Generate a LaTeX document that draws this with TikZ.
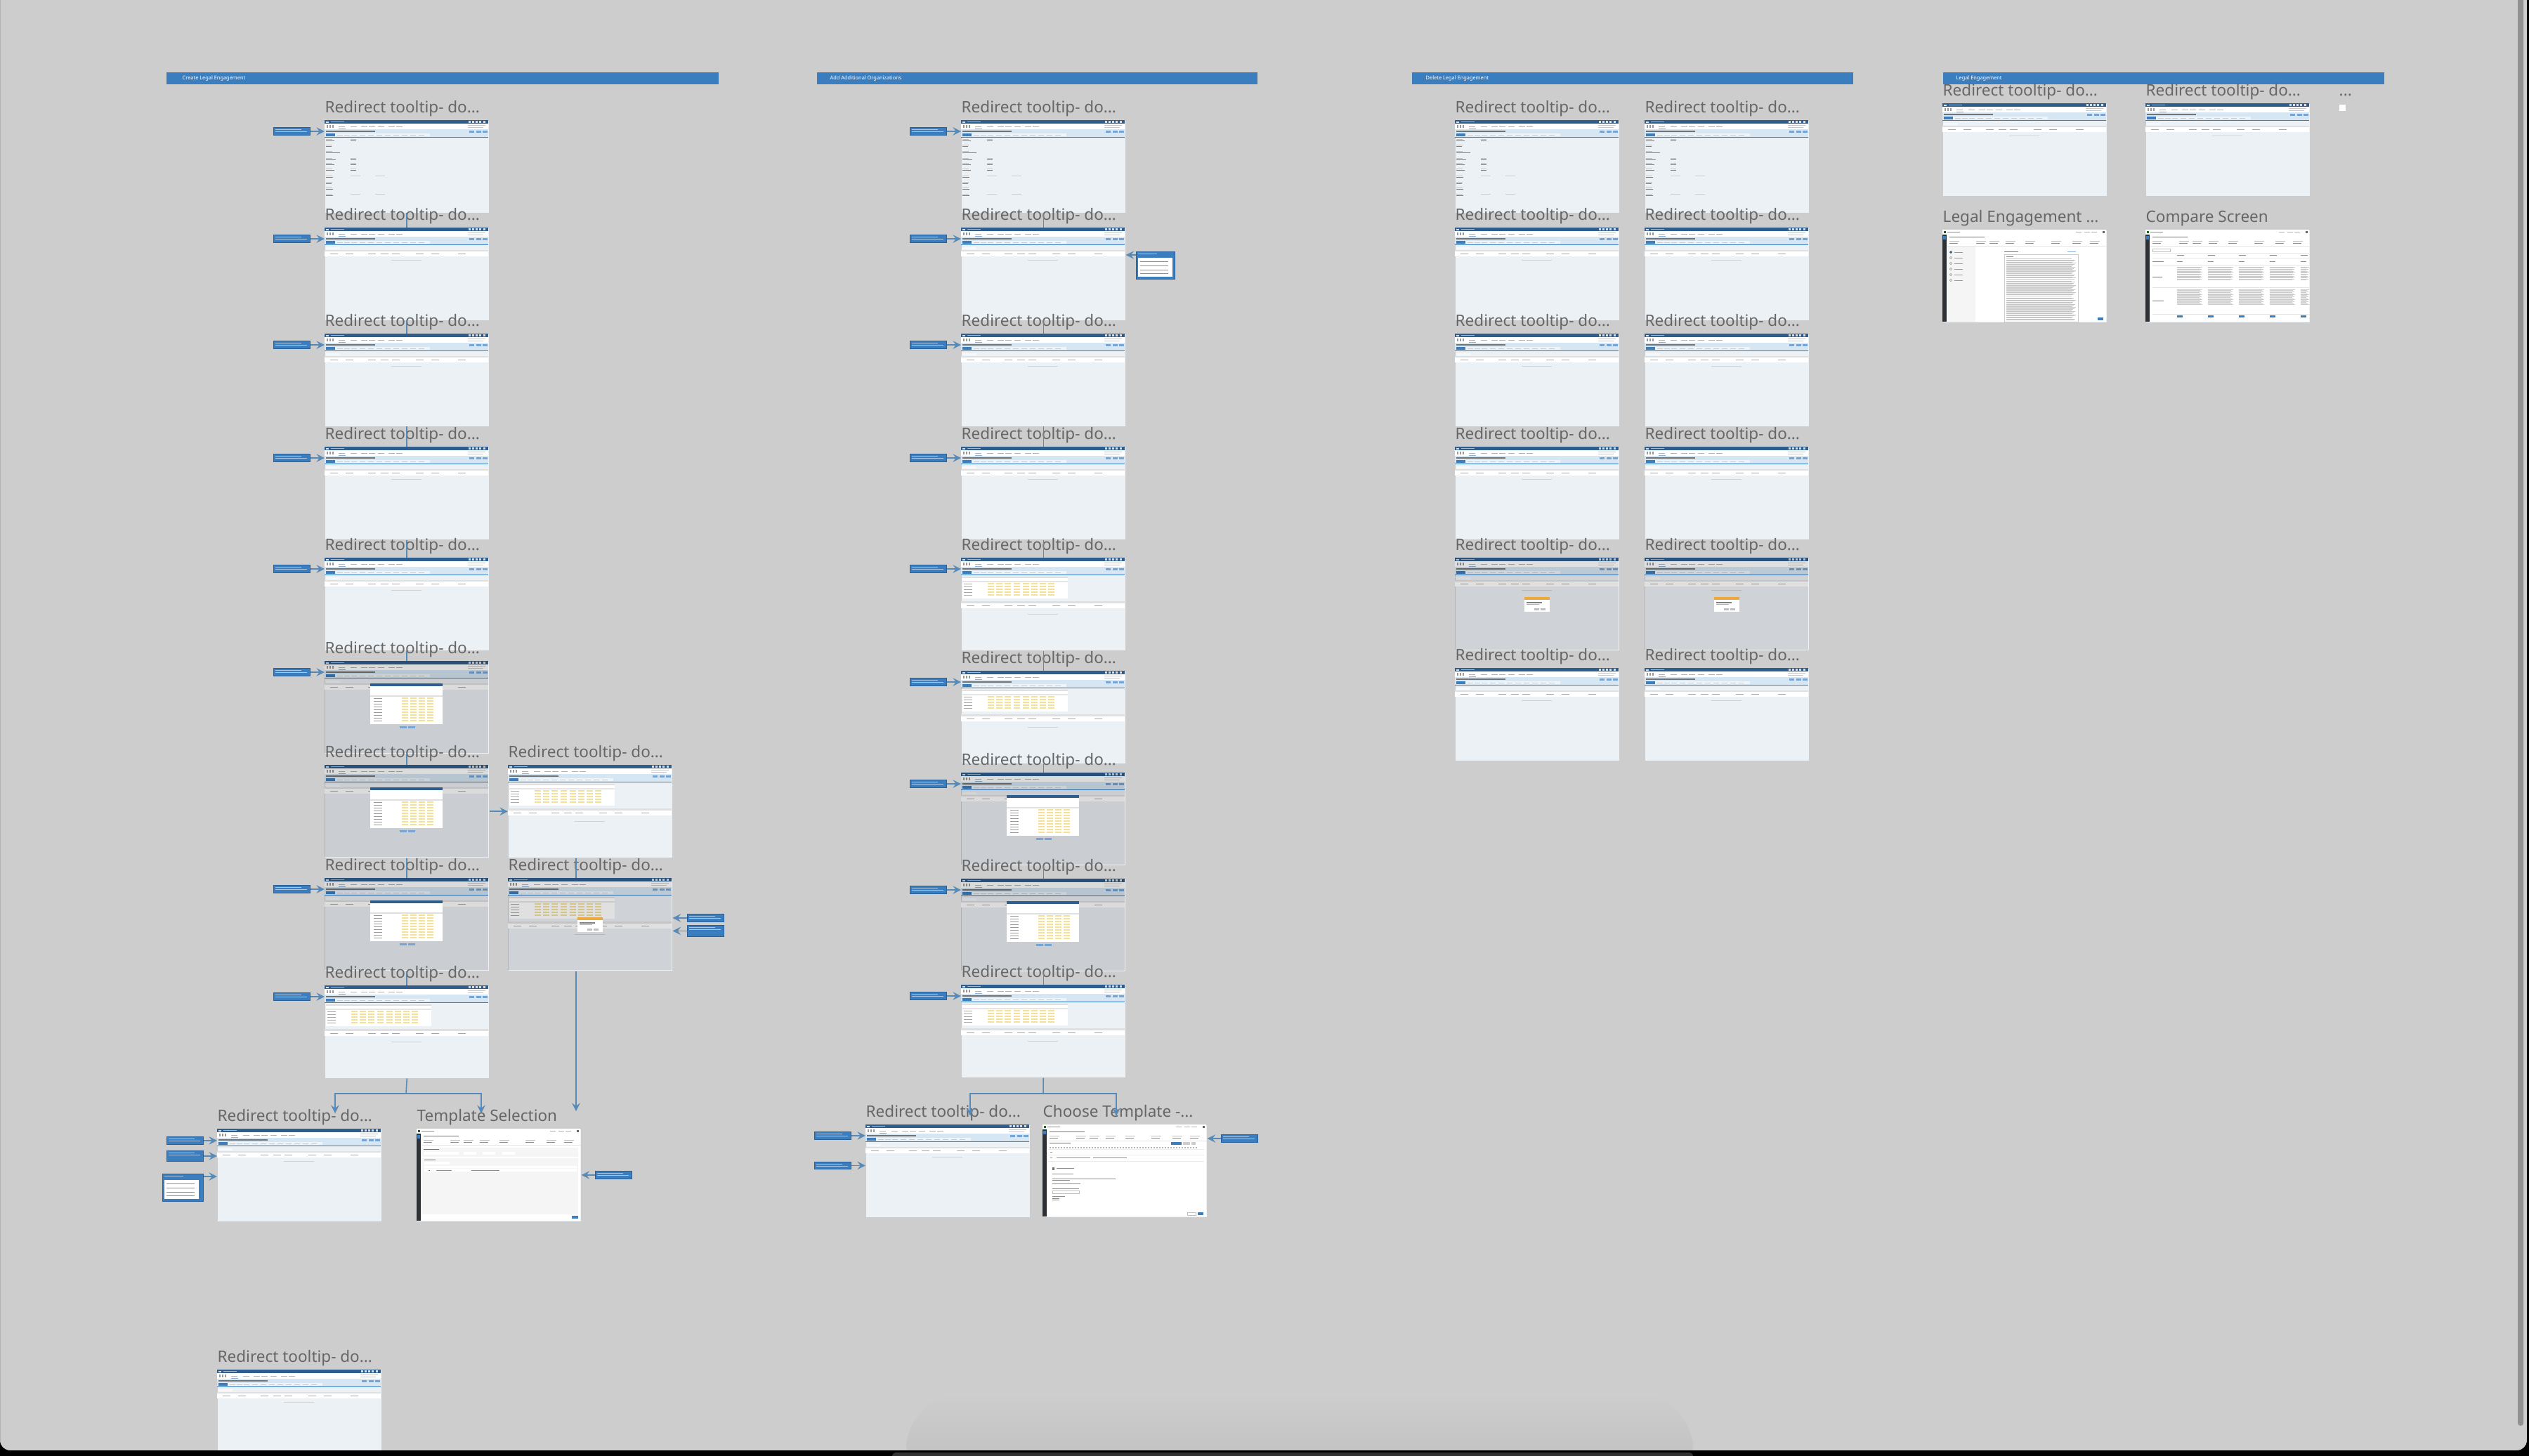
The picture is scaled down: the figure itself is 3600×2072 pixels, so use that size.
\documentclass[tikz,border=0pt]{standalone}
\usepackage{fontspec}
\setmainfont{Noto Sans}
\usetikzlibrary{calc}

\definecolor{canvas}{RGB}{205,205,205}
\definecolor{shadowgray}{RGB}{188,188,188}
\definecolor{hdrblue}{RGB}{58,126,192}
\definecolor{titlegray}{RGB}{102,102,102}
\definecolor{pagebg}{RGB}{236,241,245}
\definecolor{uidark}{RGB}{47,94,142}
\definecolor{uiband}{RGB}{214,230,243}
\definecolor{uiblue}{RGB}{60,125,190}
\definecolor{linkblue}{RGB}{88,138,184}
\definecolor{tipblue}{RGB}{58,126,192}
\definecolor{tipedge}{RGB}{40,96,156}
\definecolor{tipline}{RGB}{170,200,230}
\definecolor{yellowcell}{RGB}{244,224,150}
\definecolor{poporange}{RGB}{236,168,58}
\definecolor{sidebar}{RGB}{45,48,52}
\definecolor{scrollgray}{RGB}{145,145,145}

\newcommand\uitop{%
  \fill[uidark] (0,0) rectangle (233,5);
  \fill[white!80!uidark] (2,1.5) rectangle (6,3.5);
  \fill[white!55!uidark] (9,2) rectangle (28,3);
  \foreach \ii in {205,210,215,220,226} {\fill[white!80!uidark] (\ii,1.3) rectangle ++(3,2.4);}
  \fill[white] (0,5) rectangle (233,13);
  \foreach \ii in {3,7,11} {\fill[black!40] (\ii,7) rectangle ++(2,4);}
  \foreach \ii in {20,37,52,63,76,91,102} {\fill[black!30] (\ii,8.5) rectangle ++(9,1);}
  \fill[uiblue!60] (20,11.5) rectangle (30,12.2);
  \fill[black!22] (204,7) rectangle (229,8);
  \fill[black!22] (204,9.5) rectangle (226,10.5);
  \fill[uiband] (0,13) rectangle (233,23.5);
  \fill[black!55] (2,15.2) rectangle (72,16.6);
  \foreach \ii in {206,216,225} {\fill[uiblue!70] (\ii,14.5) rectangle ++(7,3.5);}
  \fill[white!55!uiband] (2,19.3) rectangle (150,22.8);
  \foreach \ii in {18,28,38,50,62,74,86,98,110,122,134} {\fill[black!20] (\ii,20.7) rectangle ++(8,0.6);}
  \fill[uiblue] (2,19.3) rectangle (15,22.8);
  \fill[uiblue] (0,23.5) rectangle (233,24.3);
}
\newcommand\uiform{%
  \foreach \yy/\w in {27/12,35/8,44/20,54/14,61/12,69/12,79/10,88/8,96/10,105/10} {%
    \fill[black!25] (2,\yy) rectangle ++(9,0.7);
    \fill[black!50] (2,\yy+1.8) rectangle ++(\w,0.9);}
  \foreach \yy in {27,54,61,69} {%
    \fill[black!25] (37,\yy) rectangle ++(8,0.7);
    \fill[black!50] (37,\yy+1.8) rectangle ++(8,0.9);}
  \foreach \yy in {79,105} {\fill[black!20] (37,\yy) rectangle ++(14,0.7); \fill[black!20] (72,\yy) rectangle ++(14,0.7);}
}
\newcommand\uilist{%
  \fill[white!50!pagebg] (2,27.5) rectangle (22,30.5);
  \fill[black!12] (0,31.5) rectangle (233,34);
  \fill[white] (0,34) rectangle (233,41);
  \foreach \ii in {8,30,62,80,96,130,152,190} {\fill[black!35] (\ii,37) rectangle ++(11,0.8);}
  \fill[black!18] (95,46) rectangle (138,46.8);
}
\newcommand\uitable{%
  \fill[white] (2,27) rectangle (152,58);
  \fill[black!12] (2,27) rectangle (152,29);
  \fill[black!10] (2,33) rectangle (152,35);
  \foreach \rr in {37,41,...,53} {%
    \fill[black!35] (4,\rr) rectangle ++(12,0.8);
    \foreach \cc in {38,50,62,75,88,100,112,124} {\fill[yellowcell] (\cc,\rr-0.6) rectangle ++(9,2);}}
  \fill[black!12] (0,62) rectangle (233,64.5);
  \fill[white] (0,65) rectangle (233,72);
  \foreach \ii in {8,30,62,80,96,130,152,190} {\fill[black!35] (\ii,68) rectangle ++(11,0.8);}
  \fill[black!18] (95,80) rectangle (138,80.8);
}
\newcommand\uidialog{%
  \uilist
  \fill[black,opacity=.14] (0,0) rectangle (233,131);
  \fill[white] (65,32) rectangle (168,90);
  \fill[uidark] (65,32) rectangle (168,36);
  \fill[black!12] (65,49) rectangle (168,51);
  \foreach \rr in {53,57,...,85} {%
    \fill[black!40] (70,\rr) rectangle ++(12,0.8);
    \foreach \cc in {110,122,134,146} {\fill[yellowcell] (\cc,\rr-0.6) rectangle ++(9,1.8);}}
  \fill[uiblue!70] (107,93) rectangle ++(10,3);
  \fill[uiblue!70] (119,93) rectangle ++(10,3);
}
\newcommand\uipopup{%
  \fill[black,opacity=.12] (0,0) rectangle (233,131);
  \fill[white] (99,56) rectangle (135,77);
  \fill[poporange] (99,56) rectangle (135,60);
  \fill[black!50] (102,63) rectangle ++(22,1.5);
  \fill[black!30] (102,66) rectangle ++(18,0.7);
  \fill[black!25] (113,72) rectangle ++(7,2.5);
  \fill[black!25] (122,72) rectangle ++(7,2.5);
}
\newcommand\uiapp{%
  \fill[white] (0,0) rectangle (233,131);
  \fill[sidebar] (0,7) rectangle (6,131);
  \fill[uiblue] (1,9) rectangle (5,14);
  \fill[green!45!black] (2,1.5) rectangle (5,5);
  \fill[black!45] (7,2.5) rectangle (25,3.5);
  \foreach \ii in {190,202,212} {\fill[black!30] (\ii,2.5) rectangle ++(8,1);}
  \fill[black!60] (228,1.5) rectangle (231,5);
  \fill[black!55] (10,10) rectangle (60,11);
  \foreach \ii in {10,48,67,90,118,155,185,210} {\fill[black!25] (\ii,16) rectangle ++(14,0.7); \fill[black!45] (\ii,18.5) rectangle ++(12,0.8);}
  \fill[black!10] (7,23) rectangle (233,23.5);
}
\newcommand\uitempl{%
  \uiapp
  \fill[black!4] (8,27) rectangle (230,40);
  \fill[black!55] (10,29) rectangle ++(22,0.9);
  \foreach \ii/\w in {10/50,67/18,94/18,122/18} {\fill[white] (\ii,33) rectangle ++(\w,4);}
  \fill[black!4] (8,42) rectangle (230,122);
  \fill[black!55] (11,44) rectangle ++(16,0.9);
  \fill[white] (11,47) rectangle (47,51);
  \fill[white] (11,53) rectangle (228,56);
  \fill[white] (11,57) rectangle (228,61);
  \fill[black!60] (17,58.5) rectangle ++(2,1.5);
  \fill[black!45] (28,58.5) rectangle ++(22,0.8);
  \fill[black!45] (78,58.5) rectangle ++(40,0.8);
  \fill[uiblue] (221,124) rectangle (230,128);
}
\newcommand\uimail{%
  \uiapp
  \fill[black!55] (10,26) rectangle ++(30,1);
  \fill[uiblue] (183,25) rectangle (198,29);
  \fill[black!20] (200,25) rectangle (210,29);
  \fill[black!20] (212,25) rectangle (218,29);
  \foreach \ii in {10,14,...,218} {\fill[black!30] (\ii,32) rectangle ++(2,1.5);}
  \fill[black!8] (8,35) rectangle (230,35.4);
  \fill[black!40] (11,39) rectangle ++(3,0.8);
  \fill[black!8] (8,43) rectangle (230,43.4);
  \fill[black!40] (11,47) rectangle ++(3,0.8);
  \fill[black!45] (20,46.5) rectangle ++(48,1);
  \fill[black!45] (72,46.5) rectangle ++(48,1);
  \fill[black!8] (8,52) rectangle (230,52.4);
  \fill[black!55] (14,61) rectangle ++(3,4);
  \fill[black!45] (20,62) rectangle ++(25,0.8);
  \foreach \yy/\w in {70/30,77/90,79/25,84/40,91/38,102/18,105/10,107/10} {\fill[black!45] (14,\yy) rectangle ++(\w,0.8);}
  \draw[black!25,line width=0.15pt] (14,94) rectangle (52,98);
  \fill[uiblue] (221,125) rectangle (229,129);
  \draw[black!25,line width=0.15pt] (206,125) rectangle (218,129);
}
\newcommand\uidoc{%
  \uiapp
  \fill[black!4] (7,24) rectangle (47,131);
  \foreach \yy in {32,40,48,56,64,72} {\draw[black!40,line width=0.15pt] (12,\yy) circle (1.8); \fill[black!40] (17,\yy-0.5) rectangle ++(12,0.8);}
  \fill[uidark] (12,32) circle (1.8);
  \fill[black!55] (88,31) rectangle ++(20,0.9);
  \fill[uiblue!60] (178,31) rectangle ++(12,0.8);
  \draw[black!20,line width=0.15pt] (88,35) rectangle (193,131);
  \fill[black!45] (91,38) rectangle ++(10,0.8);
  \foreach \kk in {0,...,58} {\ifnum\kk=20\else\ifnum\kk=36\else
    \fill[black!22] (91,{41+1.5*\kk}) rectangle ({184+mod(\kk*5,7)},{41.5+1.5*\kk});\fi\fi}
  \fill[uiblue] (221,125) rectangle (229,129);
}
\newcommand\uicompare{%
  \uiapp
  \draw[black!25,line width=0.15pt] (10,27) rectangle (35,31);
  \foreach \yy in {33,40,50,82,120} {\fill[black!10] (10,\yy) rectangle (233,\yy+0.4);}
  \fill[black!45] (10,45) rectangle ++(16,0.8);
  \fill[black!55] (10,67) rectangle ++(14,0.9);
  \fill[black!55] (10,101) rectangle ++(16,0.9);
  \foreach \cx/\w in {45/36,89/36,133/36,177/36,221/12} {%
    \fill[black!45] (\cx,36) rectangle ++(10,0.8);
    \fill[black!45] (\cx,45) rectangle ++(8,0.8);
    \foreach \kk in {0,...,13} {\fill[black!20] (\cx,{53+1.4*\kk}) rectangle ++({\w-mod(\kk*3,5)},0.5);}
    \foreach \kk in {0,...,15} {\fill[black!20] (\cx,{85+1.4*\kk}) rectangle ++({\w-mod(\kk*3,5)},0.5);}
    \fill[uiblue] (\cx,122) rectangle ++(8,3);}
}

\newcommand\shotform{\uitop\uiform}
\newcommand\shotlist{\uitop\uilist}
\newcommand\shottable{\uitop\uitable}
\newcommand\shotdialog{\uitop\uidialog}
\newcommand\shotpopup{\uitop\uitable\uipopup}
\newcommand\shotpoplist{\uitop\uilist\uipopup}
\newcommand\shottempl{\uitempl}
\newcommand\shotmail{\uimail}
\newcommand\shotdoc{\uidoc}
\newcommand\shotcompare{\uicompare}

\newcommand\screen[3]{%
  \node[thumb] (#1) at (#2) {};
  \begin{scope}[shift={(#1.north west)}]\csname shot#3\endcsname\end{scope}}
\newcommand\tipbox[3][]{%
  \node[tip,#1] (#2) at (#3) {};
  \begin{scope}[shift={(#2.north west)}]
    \fill[tipline] (3,3) rectangle (40,3.8);
    \fill[tipline] (3,5.5) rectangle (48,6.3);
  \end{scope}}
\newcommand\tipcard[3][]{%
  \node[tip,minimum width=0.55cm,minimum height=0.39cm,#1] (#2) at (#3) {};
  \begin{scope}[shift={(#2.north west)}]
    \fill[tipline] (3,3) rectangle (30,3.8);
    \fill[white] (3,9) rectangle (52,36);
    \foreach \yy in {14,20,26,31} {\fill[black!45] (6,\yy) rectangle ++(40,0.8);}
  \end{scope}}

\begin{document}
\begin{tikzpicture}[x=0.01cm,y=-0.01cm,>=stealth,
  thumb/.style={anchor=north west,inner sep=0,minimum width=2.33cm,minimum height=1.31cm,fill=pagebg},
  ttl/.style={anchor=base west,inner sep=0,text=titlegray,font=\fontsize{6.4}{7}\selectfont},
  hdr/.style={anchor=north west,inner sep=0,fill=hdrblue,minimum height=0.17cm},
  hdrtxt/.style={anchor=west,inner sep=0,text=white,font=\fontsize{2.1}{2.5}\selectfont},
  tip/.style={anchor=north west,inner sep=0,fill=tipblue,draw=tipedge,line width=0.25pt,
    minimum width=0.52cm,minimum height=0.11cm},
  link/.style={draw=linkblue,line width=0.45pt}]

  \useasboundingbox (0,0) rectangle (3600,2072);
  \fill[black] (0,0) rectangle (3600,2072);
  \fill[canvas,rounded corners=0.14cm] (0,-40) rectangle (3597,2065);
  \shade[top color=canvas,bottom color=shadowgray,rounded corners=0.8cm] (1290,1985) rectangle (2410,2130);

  \node[hdr,minimum width=7.86cm] (h1) at (236,102) {};
  \node[hdrtxt] (h1t) at ($(h1.west)+(23,0)$) {Create Legal Engagement};
  \node[hdr,minimum width=6.27cm] (h2) at (1162,102) {};
  \node[hdrtxt] (h2t) at ($(h2.west)+(19,0)$) {Add Additional Organizations};
  \node[hdr,minimum width=6.28cm] (h3) at (2009,102) {};
  \node[hdrtxt] (h3t) at ($(h3.west)+(20,0)$) {Delete Legal Engagement};
  \node[hdr,minimum width=6.28cm] (h4) at (2765,102) {};
  \node[hdrtxt] (h4t) at ($(h4.west)+(19,0)$) {Legal Engagement};

  \foreach \n/\y/\kind in {1/171/form,2/324/list,3/475/list,4/636/list,5/794/list,
      6/941/dialog,7/1089/dialog,8/1250/dialog,9/1403/table} {
    \screen{c1r\n}{462,\y}{\kind}
    \node[ttl] (c1t\n) at (462,\y-11) {Redirect tooltip- do...};
  }
  \foreach \n in {1,2,3,4,5,6,8,9} {
    \tipbox[anchor=east]{c1p\n}{$(c1r\n.north west)+(-20,16)$}
    \draw[link,->] (c1p\n) -- (c1p\n -| c1r\n.west);
  }
  \foreach \p/\q in {1/2,2/3,3/4,4/5,5/6,6/7,7/8,8/9}
    \draw[link] (c1r\p.south) -- (c1r\q.north);

  \screen{c1b7}{723,1089}{table}
  \node[ttl] (c1u7) at (723,1078) {Redirect tooltip- do...};
  \screen{c1b8}{723,1250}{popup}
  \node[ttl] (c1u8) at (723,1239) {Redirect tooltip- do...};
  \tipbox{c1q1}{978,1301}
  \tipbox[minimum height=0.16cm]{c1q2}{978,1317}
  \draw[link,->] (c1q1) -- (c1q1 -| c1b8.east);
  \draw[link,->] (c1q2) -- (c1q2 -| c1b8.east);
  \draw[link,->] (c1r7) -- (c1b7);

  \screen{c1l}{309,1607}{list}
  \node[ttl] (c1lt) at (309,1596) {Redirect tooltip- do...};
  \screen{c1s}{593,1607}{templ}
  \node[ttl] (c1st) at (593,1596) {Template Selection};
  \screen{c1z}{309,1950}{list}
  \node[ttl] (c1zt) at (309,1939) {Redirect tooltip- do...};
  \tipbox{c1lp1}{237,1618}
  \tipbox[minimum height=0.15cm]{c1lp2}{237,1638}
  \tipcard[minimum width=0.58cm]{c1lp3}{231,1671}
  \coordinate (c1lk) at ($(c1lp3.north east)+(0,4)$);
  \draw[link,->] (c1lp1) -- (c1lp1 -| c1l.west);
  \draw[link,->] (c1lp2) -- (c1lp2 -| c1l.west);
  \draw[link,->] (c1lk) -- (c1lk -| c1l.west);
  \tipbox{c1sp}{847,1667}
  \draw[link,->] (c1sp) -- (c1sp -| c1s.east);

  \coordinate (c1j) at (578,1557);
  \coordinate (c1la) at (477,1585);
  \coordinate (c1sa) at (685,1585);
  \draw[link,->] (c1r9.south) -- (c1j) -| (c1la);
  \draw[link,->] (c1j) -| (c1sa);
  \coordinate (c1sb) at (820,1582);
  \draw[link] (c1sb |- c1b7.south) -- (c1sb |- c1b8.north);
  \draw[link,->] (c1sb |- c1b8.south) -- (c1sb);

  \foreach \n/\y/\kind in {1/171/form,2/324/list,3/475/list,4/636/list,5/794/table,
      6/955/table,7/1100/dialog,8/1251/dialog,9/1402/table} {
    \screen{c2r\n}{1368,\y}{\kind}
    \node[ttl] (c2t\n) at (1368,\y-11) {Redirect tooltip- do...};
  }
  \foreach \n in {1,...,9} {
    \tipbox[anchor=east]{c2p\n}{$(c2r\n.north west)+(-20,16)$}
    \draw[link,->] (c2p\n) -- (c2p\n -| c2r\n.west);
  }
  \foreach \p/\q in {1/2,2/3,3/4,4/5,5/6,6/7,7/8,8/9}
    \draw[link] (c2r\p.south) -- (c2r\q.north);
  \tipcard{c2k}{1617,358}
  \coordinate (c2kk) at ($(c2k.north west)+(0,5)$);
  \draw[link,->] (c2kk) -- (c2kk -| c2r2.east);

  \screen{c2l}{1232,1601}{list}
  \node[ttl] (c2lt) at (1232,1590) {Redirect tooltip- do...};
  \screen{c2m}{1484,1601}{mail}
  \node[ttl] (c2mt) at (1484,1590) {Choose Template -...};
  \tipbox{c2lp1}{1159,1611}
  \tipbox[minimum height=0.1cm]{c2lp2}{1159,1654}
  \draw[link,->] (c2lp1) -- (c2lp1 -| c2l.west);
  \draw[link,->] (c2lp2) -- (c2lp2 -| c2l.west);
  \tipbox{c2mp}{1738,1615}
  \draw[link,->] (c2mp) -- (c2mp -| c2m.east);
  \coordinate (c2j) at (1485,1557);
  \coordinate (c2la) at (1381,1589);
  \coordinate (c2ma) at (1589,1589);
  \draw[link,->] (c2r9.south) -- (c2j) -| (c2la);
  \draw[link,->] (c2j) -| (c2ma);

  \foreach \n/\y/\kind in {1/171/form,2/324/list,3/475/list,4/636/list,5/794/poplist,6/951/list} {
    \screen{c3a\n}{2071,\y}{\kind}
    \node[ttl] (c3s\n) at (2071,\y-11) {Redirect tooltip- do...};
    \screen{c3b\n}{2341,\y}{\kind}
    \node[ttl] (c3u\n) at (2341,\y-11) {Redirect tooltip- do...};
  }

  \screen{c4a}{2765,147}{list}
  \node[ttl] (c4at) at (2765,136) {Redirect tooltip- do...};
  \screen{c4b}{3054,147}{list}
  \node[ttl] (c4bt) at (3054,136) {Redirect tooltip- do...};
  \screen{c4c}{2765,327}{doc}
  \node[ttl] (c4ct) at (2765,316) {Legal Engagement ...};
  \screen{c4d}{3054,327}{compare}
  \node[ttl] (c4dt) at (3054,316) {Compare Screen};
  \node[ttl] (c4e) at (3329,136) {...};
  \node[anchor=north west,inner sep=0,fill=white,draw=black!20,line width=0.2pt,minimum size=0.1cm] (c4f) at (3329,148) {};

  \fill[scrollgray,rounded corners=0.04cm] (3584,-10) rectangle (3592,2030);
  \fill[black,even odd rule] (-10,-50) rectangle (3610,2080) [rounded corners=0.14cm] (0,-40) rectangle (3597,2065);
  \fill[black!80,rounded corners=0.05cm] (1270,2068) rectangle (2410,2080);
\end{tikzpicture}
\end{document}
